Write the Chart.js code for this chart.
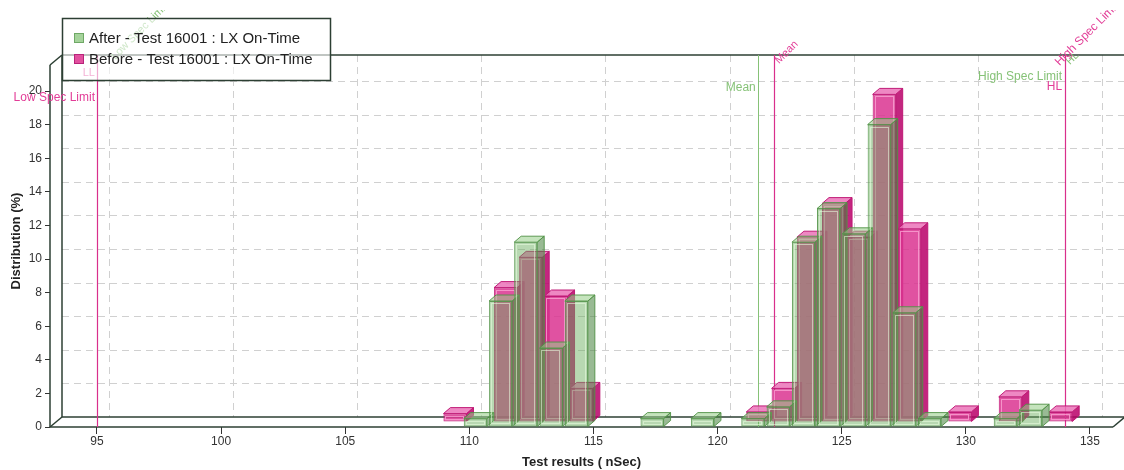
<!DOCTYPE html>
<html>
<head>
<meta charset="utf-8">
<title>LX On-Time distribution</title>
<script src="https://cdn.jsdelivr.net/npm/chart.js@4.4.0/dist/chart.umd.min.js"></script>
<style>
  html, body { margin: 0; padding: 0; background: #ffffff; }
  #wrap { width: 1124px; height: 470px; position: relative; }
  canvas { display: block; }
</style>
</head>
<body>
<div id="wrap"><canvas id="chart" width="1124" height="470"></canvas></div>
<script>
// Histogram bins (bin centres, nSec) and distribution per bin (%)
const binCenters = [109.22, 110.24, 111.26, 112.27, 113.29, 114.31, 115.32, 116.34, 117.36, 118.37,
                    119.39, 120.41, 121.42, 122.44, 123.46, 124.47, 125.49, 126.51, 127.52, 128.54,
                    129.56, 130.57, 131.59, 132.61, 133.62];
const afterValues  = [null, 0.5, 7.5, 11, 4.7, 7.5, null, null, 0.5, null,
                      0.5, null, 0.5, 1.2, 11, 13, 11.5, 18, 6.8, 0.5,
                      null, null, 0.5, 1.0, null];
const beforeValues = [0.5, null, 8, 9.8, 7.5, 2, null, null, null, null,
                      null, null, 0.6, 2.0, 11, 13, 11, 19.5, 11.5, null,
                      0.6, null, 1.5, null, 0.6];
const seriesLabels = ['After - Test 16001 : LX On-Time', 'Before - Test 16001 : LX On-Time'];
const xTickValues = [95, 100, 105, 110, 115, 120, 125, 130, 135];
const yTickValues = [0, 2, 4, 6, 8, 10, 12, 14, 16, 18, 20];
const specLimits = [95, 134];          // low / high spec limit
const meanValues = [121.62, 122.27];   // after / before mean

const FONT = '"Liberation Sans", Arial, Helvetica, sans-serif';
const GREEN_TXT = '#86c277';
const PINK_TXT = '#e23d97';
const GREEN_LINE = '#86c277';
const PINK_LINE = '#d92f8c';
const FRAME = '#2c3f33';

// 3D look: depth of a single bar, shift of the back row, depth of the whole floor
const BAR_DEPTH = { dx: 7, dy: -6 };
const ROW_SHIFT = [{ dx: 0, dy: 0 }, { dx: 5, dy: -5 }];
const FLOOR = { dx: 12, dy: -10 };

const faceStyles = [
  { top: 'rgba(150,205,135,0.55)', side: 'rgba(70,130,60,0.55)', edge: 'rgba(80,145,70,0.9)', hi: 'rgba(235,255,225,0.55)' },
  { top: 'rgba(235,115,185,0.85)', side: 'rgba(185,0,105,0.85)', edge: 'rgba(190,20,115,0.95)', hi: 'rgba(255,175,220,0.7)' }
];

function toPoints(values) {
  const pts = [];
  values.forEach((v, i) => { if (v !== null) pts.push({ x: binCenters[i], y: v }); });
  return pts;
}

function poly(ctx, pts, fill, stroke) {
  ctx.beginPath();
  ctx.moveTo(pts[0][0], pts[0][1]);
  for (let i = 1; i < pts.length; i++) ctx.lineTo(pts[i][0], pts[i][1]);
  ctx.closePath();
  if (fill) { ctx.fillStyle = fill; ctx.fill(); }
  if (stroke) { ctx.strokeStyle = stroke; ctx.lineWidth = 1; ctx.stroke(); }
}

function seg(ctx, x1, y1, x2, y2) {
  ctx.beginPath(); ctx.moveTo(x1, y1); ctx.lineTo(x2, y2); ctx.stroke();
}

// Back wall, floor, frame and reference lines
const framePlugin = {
  id: 'frame3d',
  beforeDatasetsDraw(chart) {
    const { ctx, chartArea: a, scales: { x, y } } = chart;
    const y0 = y.getPixelForValue(0);
    const backLeft = a.left + FLOOR.dx;
    const backBottom = y0 + FLOOR.dy;
    const backTop = a.top;
    const frontTop = backTop - FLOOR.dy;
    const W = chart.width + 20;
    ctx.save();
    // dashed grid on the back wall
    ctx.strokeStyle = '#d0d0d0';
    ctx.lineWidth = 1;
    ctx.setLineDash([7, 5]);
    yTickValues.forEach(v => {
      if (v === 0) return;
      const py = Math.round(y.getPixelForValue(v) + FLOOR.dy) + 0.5;
      seg(ctx, backLeft, py, W, py);
    });
    xTickValues.forEach(v => {
      const px = Math.round(x.getPixelForValue(v) + FLOOR.dx) + 0.5;
      seg(ctx, px, backTop, px, backBottom);
    });
    ctx.setLineDash([]);
    // frame
    ctx.strokeStyle = FRAME;
    ctx.lineWidth = 1.5;
    seg(ctx, backLeft, backTop, W, backTop);
    seg(ctx, backLeft, backTop, backLeft, backBottom);
    seg(ctx, backLeft, backBottom, W, backBottom);
    seg(ctx, a.left, y0, a.right, y0);
    seg(ctx, a.left, y0, backLeft, backBottom);
    seg(ctx, a.right, y0, a.right + FLOOR.dx, backBottom);
    seg(ctx, a.left, y0, a.left, frontTop);
    seg(ctx, a.left, frontTop, backLeft, backTop);
    // spec limit and mean lines
    const vline = (v, color, w) => {
      const px = Math.round(x.getPixelForValue(v)) + 0.5;
      ctx.strokeStyle = color; ctx.lineWidth = w;
      seg(ctx, px, backTop, px, y0);
    };
    vline(meanValues[0], GREEN_LINE, 1);
    vline(specLimits[0], PINK_LINE, 1.2);
    vline(meanValues[1], PINK_LINE, 1.2);
    vline(specLimits[1], PINK_LINE, 1.2);
    ctx.restore();
  },
  beforeDatasetDraw(chart, args) {
    const { ctx } = chart;
    const shift = ROW_SHIFT[args.index];
    const st = faceStyles[args.index];
    ctx.save();
    ctx.translate(shift.dx, shift.dy);
    // top and side faces first, so neighbouring front faces sit over them
    args.meta.data.forEach(el => {
      const p = el.getProps(['x', 'y', 'base', 'width'], true);
      if (!isFinite(p.y)) return;
      const L = p.x - p.width / 2, R = p.x + p.width / 2;
      const dx = BAR_DEPTH.dx, dy = BAR_DEPTH.dy;
      poly(ctx, [[R, p.y], [R + dx, p.y + dy], [R + dx, p.base + dy], [R, p.base]], st.side, st.edge);
      poly(ctx, [[L, p.y], [R, p.y], [R + dx, p.y + dy], [L + dx, p.y + dy]], st.top, st.edge);
    });
  },
  afterDatasetDraw(chart, args) {
    const { ctx } = chart;
    const st = faceStyles[args.index];
    args.meta.data.forEach(el => {
      const p = el.getProps(['x', 'y', 'base', 'width'], true);
      if (!isFinite(p.y)) return;
      const h = p.base - p.y;
      if (h < 6) return;
      ctx.strokeStyle = st.hi;
      ctx.lineWidth = 1;
      ctx.strokeRect(Math.round(p.x - p.width / 2) + 2.5, Math.round(p.y) + 2.5, Math.round(p.width) - 5, Math.round(h) - 5);
    });
    ctx.restore();
  },
  afterDatasetsDraw(chart) {
    const { ctx, scales: { x } } = chart;
    const xl = x.getPixelForValue(specLimits[0]);
    const xh = x.getPixelForValue(specLimits[1]);
    const xma = x.getPixelForValue(meanValues[0]);
    const xmb = x.getPixelForValue(meanValues[1]);
    ctx.save();
    // labels stay inside the drawing band below the top margin
    ctx.beginPath();
    ctx.rect(0, 10, chart.width, chart.height - 10);
    ctx.clip();
    ctx.textBaseline = 'middle';
    const txt = (s, px, py, color, size, align) => {
      ctx.font = size + 'px ' + FONT;
      ctx.fillStyle = color;
      ctx.textAlign = align;
      ctx.fillText(s, px, py);
    };
    const rot = (s, px, py, color, size) => {
      ctx.save();
      ctx.translate(px, py);
      ctx.rotate(-Math.PI / 4);
      txt(s, 0, 0, color, size, 'left');
      ctx.restore();
    };
    txt('Low Spec Limit', xl - 2, 98, PINK_TXT, 12, 'right');
    txt('LL', xl - 2, 73, PINK_TXT, 11, 'right');
    rot('Low Spec Limit', xl + 16, 58, GREEN_TXT, 11);
    txt('Mean', xma - 2, 88, GREEN_TXT, 12, 'right');
    rot('Mean', xmb + 3, 62, PINK_TXT, 11);
    txt('High Spec Limit', xh - 3, 77, GREEN_TXT, 12, 'right');
    txt('HL', xh - 3, 87, PINK_TXT, 12, 'right');
    rot('High Spec Limit', xh - 8, 64, PINK_TXT, 12);
    rot('HL', xh + 3, 63, GREEN_TXT, 10);
    ctx.restore();
  },
  afterDraw(chart) {
    // legend box
    const { ctx } = chart;
    const bx = 62, by = 18, bw = 268, bh = 62;
    ctx.save();
    ctx.fillStyle = 'rgba(255,255,255,0.6)';
    ctx.fillRect(bx, by, bw, bh);
    ctx.strokeStyle = FRAME;
    ctx.lineWidth = 1.5;
    ctx.strokeRect(bx + 0.5, by + 0.5, bw, bh);
    const sw = [{ fill: '#a5d39b', edge: '#6fa866' }, { fill: '#e2509f', edge: '#b8237a' }];
    ctx.font = '15px ' + FONT;
    ctx.textBaseline = 'middle';
    ctx.textAlign = 'left';
    chart.data.datasets.forEach((ds, i) => {
      const cy = 38 + i * 21;
      ctx.fillStyle = sw[i].fill;
      ctx.fillRect(74, cy - 5, 10, 10);
      ctx.strokeStyle = sw[i].edge;
      ctx.lineWidth = 1;
      ctx.strokeRect(74.5, cy - 4.5, 9, 9);
      ctx.fillStyle = '#222';
      ctx.fillText(ds.label, 89, cy + 1);
    });
    ctx.restore();
  }
};

Chart.defaults.font.family = FONT;
Chart.defaults.color = '#333';

new Chart(document.getElementById('chart'), {
  type: 'bar',
  data: {
    datasets: [
      {
        label: seriesLabels[0],
        data: toPoints(afterValues),
        backgroundColor: 'rgba(105,172,92,0.47)',
        borderColor: 'rgba(85,150,75,0.9)',
        borderWidth: 1,
        borderSkipped: false,
        grouped: false,
        barPercentage: 0.92,
        categoryPercentage: 1,
        clip: false
      },
      {
        label: seriesLabels[1],
        data: toPoints(beforeValues),
        backgroundColor: 'rgba(218,52,145,0.85)',
        borderColor: 'rgba(190,20,115,0.95)',
        borderWidth: 1,
        borderSkipped: false,
        grouped: false,
        barPercentage: 0.92,
        categoryPercentage: 1,
        clip: false
      }
    ]
  },
  options: {
    responsive: false,
    animation: false,
    devicePixelRatio: 1,
    events: [],
    layout: { padding: { top: 55, right: 11, left: 0, bottom: 0 } },
    plugins: { legend: { display: false }, tooltip: { enabled: false } },
    scales: {
      x: {
        type: 'linear',
        offset: false,
        min: 93.107,
        max: 135.93,
        afterBuildTicks: s => { s.ticks = xTickValues.map(v => ({ value: v })); },
        afterFit: s => { s.height = 43; },
        ticks: { font: { size: 12 }, color: '#333', padding: 0, maxRotation: 0 },
        grid: { display: true, offset: false, drawOnChartArea: false, drawTicks: true, tickLength: 7, color: '#333' },
        border: { display: false },
        title: { display: true, text: 'Test results ( nSec)', font: { size: 13, weight: 'bold' }, color: '#222', padding: { top: 0, bottom: 0 } }
      },
      y: {
        type: 'linear',
        min: 0,
        max: 22.143,
        afterBuildTicks: s => { s.ticks = yTickValues.map(v => ({ value: v })); },
        afterFit: s => { s.width = 50; },
        ticks: { font: { size: 12 }, color: '#333', padding: 3 },
        grid: { display: true, drawOnChartArea: false, drawTicks: true, tickLength: 5, color: '#333' },
        border: { display: false },
        title: { display: true, text: 'Distribution (%)', font: { size: 13, weight: 'bold' }, color: '#222', padding: { top: 9, bottom: 0 } }
      }
    }
  },
  plugins: [framePlugin]
});
</script>
</body>
</html>
